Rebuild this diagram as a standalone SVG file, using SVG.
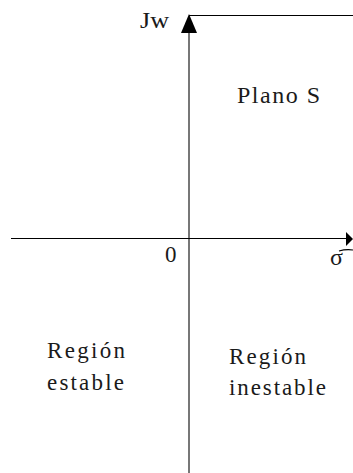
<svg xmlns="http://www.w3.org/2000/svg" width="353" height="473" viewBox="0 0 353 473">
<style>
.t{font-family:"Liberation Serif","DejaVu Serif",serif;fill:#1a1a1a;}
.ax{stroke:#000;stroke-width:1.2;fill:none;}
.vx{stroke:#555;stroke-width:1.6;fill:none;}
</style>
<rect width="353" height="473" fill="#fff"/>
<g id="connectors">
<line class="vx" x1="189" y1="30" x2="189" y2="473"/>
<line class="ax" x1="189" y1="15.5" x2="353" y2="15.5"/>
<line class="ax" x1="11" y1="238.5" x2="348" y2="238.5"/>
<polygon points="189,14 181,33 197,33" fill="#000"/>
<polygon points="353,239 346,232 346,246" fill="#000"/>
</g>
<g id="jw"><text class="t" x="140" y="28" font-size="24" textLength="29" lengthAdjust="spacingAndGlyphs">Jw</text></g>
<g id="plano"><text class="t" x="237" y="103" font-size="24" textLength="83" lengthAdjust="spacing">Plano S</text></g>
<g id="origin"><text class="t" x="165" y="262" font-size="23">0</text></g>
<g id="sigma"><text class="t" x="330" y="265" font-size="24">σ</text><path d="M339,251 Q346,249 353,250" class="ax" stroke-width="1"/></g>
<g id="estable"><text class="t" font-size="23"><tspan x="47" y="358" textLength="78" lengthAdjust="spacing">Región</tspan><tspan x="47" y="390" textLength="77" lengthAdjust="spacing">estable</tspan></text></g>
<g id="inestable"><text class="t" font-size="23"><tspan x="229" y="364" textLength="77" lengthAdjust="spacing">Región</tspan><tspan x="229" y="395" textLength="97" lengthAdjust="spacing">inestable</tspan></text></g>
</svg>
